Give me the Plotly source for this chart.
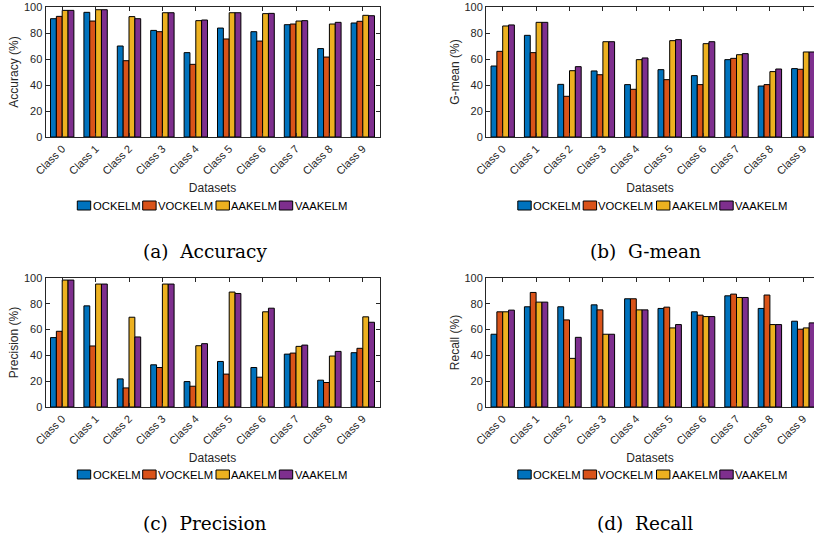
import plotly.graph_objects as go

classes = ["Class 0", "Class 1", "Class 2", "Class 3", "Class 4",
           "Class 5", "Class 6", "Class 7", "Class 8", "Class 9"]
methods = ["OCKELM", "VOCKELM", "AAKELM", "VAAKELM"]
colors = ["#0072BD", "#D95319", "#EDB120", "#7E2F8E"]

# (a) Accuracy
acc_ockelm = [91.0, 95.9, 70.0, 82.0, 64.9, 83.8, 81.0, 86.4, 68.0, 87.7]
acc_vockelm = [92.8, 89.2, 58.7, 81.0, 55.9, 75.4, 73.8, 86.9, 61.5, 89.0]
acc_aakelm = [97.4, 97.9, 92.6, 95.6, 89.5, 95.6, 94.9, 89.2, 86.9, 93.6]
acc_vaakelm = [97.4, 97.9, 91.0, 95.6, 90.0, 95.6, 95.1, 89.5, 88.2, 93.3]

# (b) G-mean
gm_ockelm = [54.6, 78.2, 40.5, 50.8, 40.3, 51.8, 47.2, 59.5, 39.2, 52.6]
gm_vockelm = [65.9, 64.9, 31.3, 47.9, 36.7, 44.1, 40.3, 60.5, 40.3, 52.1]
gm_aakelm = [85.4, 88.2, 51.0, 73.3, 59.5, 74.1, 71.8, 63.3, 50.3, 65.4]
gm_vaakelm = [86.2, 88.2, 54.1, 73.3, 60.8, 74.9, 73.3, 64.1, 52.3, 65.4]

# (c) Precision
pr_ockelm = [53.8, 78.4, 21.8, 32.7, 19.7, 35.3, 30.6, 41.0, 20.8, 42.1]
pr_vockelm = [58.7, 47.3, 14.8, 30.6, 16.1, 25.5, 23.1, 41.8, 19.0, 45.5]
pr_aakelm = [98.4, 95.3, 69.6, 95.3, 47.5, 89.1, 73.8, 47.0, 39.5, 69.9]
pr_vaakelm = [98.4, 95.3, 54.3, 95.3, 49.1, 88.0, 76.6, 48.0, 43.1, 65.7]

# (d) Recall
rc_ockelm = [56.4, 77.7, 77.7, 79.2, 83.9, 76.4, 73.8, 86.2, 76.4, 66.5]
rc_vockelm = [73.8, 88.8, 67.5, 75.3, 83.9, 77.4, 71.2, 87.5, 86.8, 60.3]
rc_aakelm = [73.8, 81.3, 37.7, 56.4, 75.3, 61.3, 70.1, 84.9, 63.9, 61.3]
rc_vaakelm = [75.1, 81.3, 54.0, 56.4, 75.3, 63.9, 70.1, 84.9, 63.9, 65.2]

y_titles = ["Accuracy (%)", "G-mean (%)", "Precision (%)", "Recall (%)"]
captions = ["(a)  Accuracy", "(b)  G-mean", "(c)  Precision", "(d)  Recall"]
panels = [
    [acc_ockelm, acc_vockelm, acc_aakelm, acc_vaakelm],
    [gm_ockelm, gm_vockelm, gm_aakelm, gm_vaakelm],
    [pr_ockelm, pr_vockelm, pr_aakelm, pr_vaakelm],
    [rc_ockelm, rc_vockelm, rc_aakelm, rc_vaakelm],
]

W, H = 814, 543
# panel plot areas in pixels: (left, right, top, bottom)
boxes = [(45.5, 379.5, 7, 137), (486, 820, 7, 137),
         (45.5, 379.5, 278, 407), (486, 820, 278, 407)]
legend_y = [205.5, 205.5, 474.5, 474.5]
legend_x0 = [77.3, 517.8, 77.3, 517.8]
legend_offsets = [0, 65.4, 138.7, 202.0]   # swatch starts within a legend row
swatch_w, swatch_h = 13.4, 9
caption_y = [252, 252, 523, 523]
caption_x = [205, 645, 205, 645]

fig = go.Figure()
axis_col = "#262626"
shapes = []
annotations = []
layout = dict(
    width=W, height=H, margin=dict(l=0, r=0, t=0, b=0, autoexpand=False),
    paper_bgcolor="white", plot_bgcolor="white",
    barmode="group", bargap=0.3, bargroupgap=0.0,
    font=dict(family="Liberation Sans, Arial, sans-serif", size=12, color=axis_col),
    showlegend=False,
)

for p in range(4):
    sfx = "" if p == 0 else str(p + 1)
    l, r, t, b = boxes[p]
    x_right = min(r, W)
    per_cat = (r - l) / 10.0
    xmax = -0.5 + (x_right - l) / per_cat
    for m in range(4):
        fig.add_trace(go.Bar(
            x=classes, y=panels[p][m], name=methods[m],
            marker=dict(color=colors[m], line=dict(color="black", width=1)),
            xaxis="x" + sfx, yaxis="y" + sfx, showlegend=False,
        ))
    cut = r > W
    layout["xaxis" + sfx] = dict(
        domain=[l / W, x_right / W], anchor="y" + sfx,
        range=[-0.5, xmax], type="category", automargin=False,
        showline=True, linecolor=axis_col, linewidth=1,
        mirror="ticks", ticks="inside", ticklen=4, tickcolor=axis_col,
        tickangle=-45, tickfont=dict(size=11, color=axis_col),
        title=dict(text="Datasets", font=dict(size=12, color=axis_col), standoff=7),
        showgrid=False, zeroline=False, fixedrange=True,
    )
    layout["yaxis" + sfx] = dict(
        domain=[1 - b / H, 1 - t / H], anchor="x" + sfx,
        range=[0, 100], tickvals=[0, 20, 40, 60, 80, 100], automargin=False,
        showline=True, linecolor=axis_col, linewidth=1,
        mirror=False if cut else "ticks", ticks="inside", ticklen=4, tickcolor=axis_col,
        tickfont=dict(size=11, color=axis_col),
        title=dict(text=y_titles[p], font=dict(size=12, color=axis_col), standoff=2),
        showgrid=False, zeroline=False, fixedrange=True,
    )
    # legend row (swatches + labels)
    yc = legend_y[p]
    for m in range(4):
        sx = legend_x0[p] + legend_offsets[m]
        shapes.append(dict(
            type="rect", xref="paper", yref="paper",
            x0=sx / W, x1=(sx + swatch_w) / W,
            y0=1 - (yc + swatch_h / 2) / H, y1=1 - (yc - swatch_h / 2) / H,
            fillcolor=colors[m], line=dict(color="black", width=1),
        ))
        annotations.append(dict(
            text=methods[m], x=(sx + swatch_w + 0.8) / W, y=1 - yc / H,
            xref="paper", yref="paper", xanchor="left", yanchor="middle",
            showarrow=False, borderpad=0,
            font=dict(family="Liberation Sans, Arial, sans-serif", size=11.3, color="black"),
        ))
    annotations.append(dict(
        text=captions[p], x=caption_x[p] / W, y=1 - caption_y[p] / H,
        xref="paper", yref="paper", xanchor="center", yanchor="middle",
        showarrow=False, font=dict(family="DejaVu Serif, serif", size=18.5, color="black"),
    ))

layout["shapes"] = shapes
layout["annotations"] = annotations
fig.update_layout(**layout)
fig.write_html(
    "out.html",
    config={"displayModeBar": False},
    post_script="document.body.style.margin='0';document.body.style.overflow='hidden';",
)
